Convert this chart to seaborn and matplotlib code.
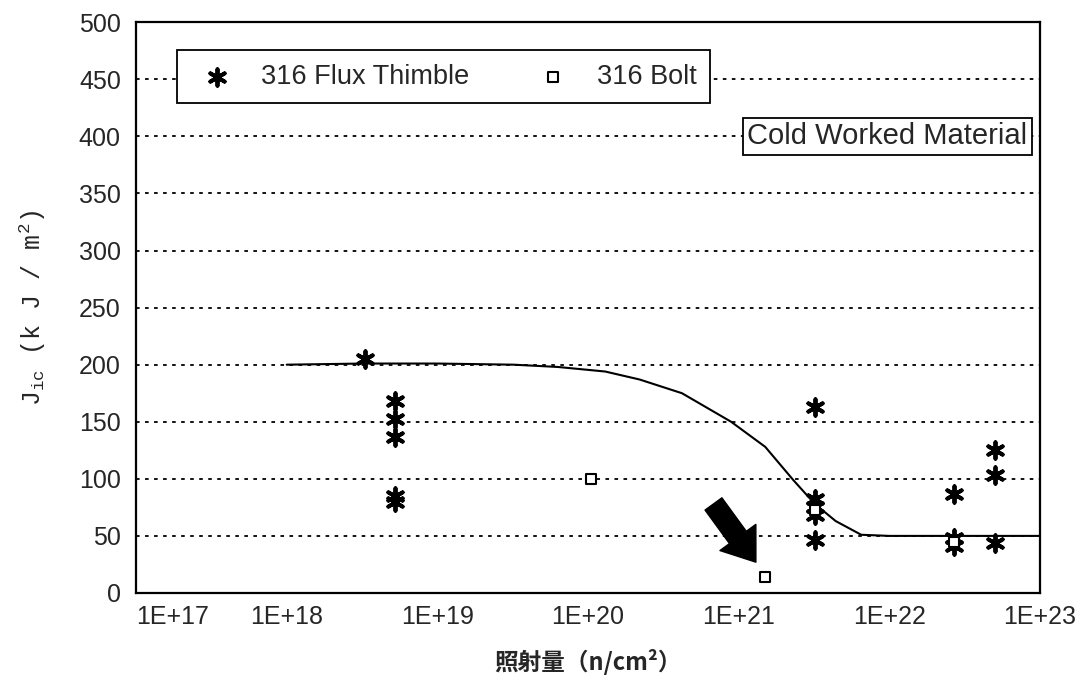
import numpy as np
import matplotlib
matplotlib.use("Agg")
import matplotlib.pyplot as plt
from matplotlib.ticker import LogLocator, NullFormatter
import seaborn as sb

#%% Daten
thimble_x = [3.3e18,
             5.2e18, 5.2e18, 5.2e18, 5.2e18, 5.2e18,
             3.2e21, 3.2e21, 3.2e21, 3.2e21, 3.2e21,
             2.7e22, 2.7e22, 2.7e22,
             5.0e22, 5.0e22, 5.0e22]
thimble_y = [205,
             168, 152, 137, 85, 80,
             163, 82, 75, 68, 46,
             87, 48, 41,
             125, 103, 44]

bolt_x = [1.05e20, 1.5e21, 3.2e21, 2.7e22]
bolt_y = [100, 14, 73, 45]

curve_x = [1.0e18, 3.2e18, 1.0e19, 3.2e19, 6.3e19, 1.3e20, 2.2e20, 4.2e20,
           8.9e20, 1.5e21, 2.3e21, 3.2e21, 4.4e21, 6.5e21, 1.0e22, 3.2e22, 1.0e23]
curve_y = [200, 201, 201, 200, 198, 194, 187, 175,
           150, 128, 99, 78, 63, 51, 50, 50, 50]

x_ticks = [1e17, 1e18, 1e19, 1e20, 1e21, 1e22, 1e23]
x_labels = ["1E+17", "1E+18", "1E+19", "1E+20", "1E+21", "1E+22", "1E+23"]
y_ticks = list(range(0, 501, 50))

#%% Plot
sb.set_style("white")
plt.rcParams['font.family'] = ['Liberation Sans', 'DejaVu Sans']
plt.rcParams['mathtext.fontset'] = 'custom'
plt.rcParams['mathtext.rm'] = 'Liberation Mono'

fig = plt.figure(figsize=(10.91, 6.86), dpi=100)
ax = fig.add_axes([0.1247, 0.1356, 0.8286, 0.832])

sb.lineplot(x=curve_x, y=curve_y, ax=ax, color='black', lw=1.5, zorder=3)
sb.scatterplot(x=thimble_x, y=thimble_y, ax=ax, marker=(6, 2, 0), s=140,
               color='black', linewidth=2.8, label='316 Flux Thimble', zorder=4)
sb.scatterplot(x=bolt_x, y=bolt_y, ax=ax, marker='s', s=45, facecolor='white',
               edgecolor='black', linewidth=1.5, label='316 Bolt', zorder=5)

ax.set_xscale('log')
ax.set_xlim(1e17, 1e23)
ax.set_ylim(0, 500)
ax.set_xticks(x_ticks)
ax.set_xticklabels(x_labels, fontsize=18)
ax.get_xticklabels()[0].set_horizontalalignment('left')
ax.xaxis.set_minor_locator(LogLocator(base=10, subs=np.arange(2, 10)))
ax.xaxis.set_minor_formatter(NullFormatter())
ax.set_yticks(y_ticks)
ax.set_yticklabels([str(v) for v in y_ticks], fontsize=18)

ax.tick_params(axis='x', which='major', direction='out', length=6, width=1.2, pad=3)
ax.tick_params(axis='x', which='minor', direction='out', length=4, width=1.0)
ax.tick_params(axis='y', direction='out', length=10, width=1.2, pad=1)

ax.yaxis.grid(True, color='black', linestyle=(0, (2, 3)), lw=1.3)
ax.xaxis.grid(False)
for sp in ax.spines.values():
    sp.set_color('black')
    sp.set_linewidth(1.6)

leg = ax.legend(loc='upper left', bbox_to_anchor=(0.045, 0.855, 0.59, 0.096),
                mode='expand', ncol=2,
                fontsize=19.5, frameon=True, fancybox=False, framealpha=1,
                edgecolor='black', borderpad=0.5, borderaxespad=0,
                handletextpad=0.6, handlelength=2.0,
                columnspacing=1.4, markerscale=1.0)
leg.get_frame().set_linewidth(1.3)

ax.text(0.986, 0.80, "Cold Worked Material", transform=ax.transAxes,
        ha='right', va='center', fontsize=21,
        bbox=dict(boxstyle='square,pad=0.15', facecolor='white',
                  edgecolor='black', lw=1.3))

# Pfeil auf die Bolt-Probe
ax.annotate("", xy=(1.3e21, 27), xytext=(6.8e20, 78),
            arrowprops=dict(facecolor='black', edgecolor='black', width=15,
                            headwidth=32, headlength=22, shrink=0))

ax.set_xlabel("照射量（n/cm²）", fontsize=17, fontweight='bold',
              family=['Noto Sans CJK JP', 'DejaVu Sans'], labelpad=14)
ax.set_ylabel(r"J$_{\mathregular{ic}}$ (k J / m$^{\mathregular{2}}$)",
              fontsize=18, family=['Liberation Mono', 'DejaVu Sans'], labelpad=22)

fig.savefig("out.png", dpi=100)
